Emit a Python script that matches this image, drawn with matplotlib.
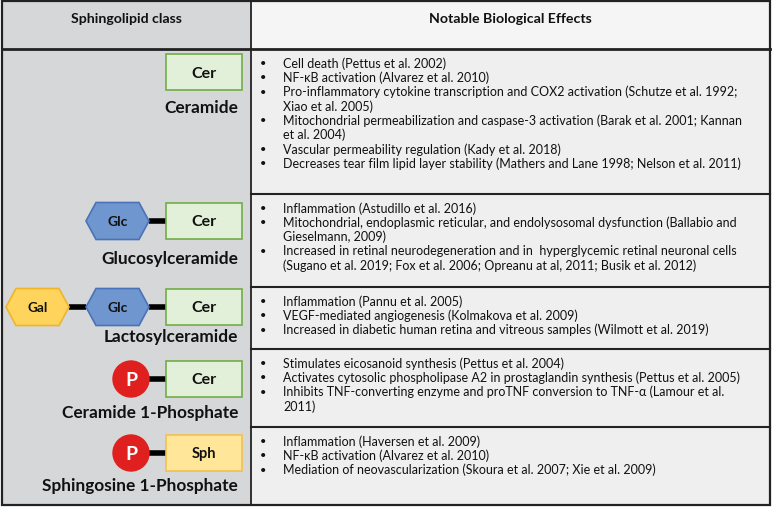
"""
Sphingolipid classes and their notable biological effects (table figure)
"""

import matplotlib.pyplot as plt
from matplotlib.patches import Rectangle, Polygon, Circle

plt.rcParams['font.family'] = ['Lato', 'DejaVu Sans']

# Table content
header_left = 'Sphingolipid class'
header_right = 'Notable Biological Effects'

class_names = ['Ceramide', 'Glucosylceramide', 'Lactosylceramide',
               'Ceramide 1-Phosphate', 'Sphingosine 1-Phosphate']

# structure drawn right-to-left: last unit sits at the right edge
class_units = [
    [('box', 'Cer')],
    [('hex', 'Glc'), ('box', 'Cer')],
    [('hex', 'Gal'), ('hex', 'Glc'), ('box', 'Cer')],
    [('circ', 'P'), ('box', 'Cer')],
    [('circ', 'P'), ('box', 'Sph')],
]

effects = [
    ['Cell death (Pettus et al. 2002)',
     'NF-\u03baB activation (Alvarez et al. 2010)',
     'Pro-inflammatory cytokine transcription and COX2 activation (Schutze et al. 1992;\nXiao et al. 2005)',
     'Mitochondrial permeabilization and caspase-3 activation (Barak et al. 2001; Kannan\net al. 2004)',
     'Vascular permeability regulation (Kady et al. 2018)',
     'Decreases tear film lipid layer stability (Mathers and Lane 1998; Nelson et al. 2011)'],
    ['Inflammation (Astudillo et al. 2016)',
     'Mitochondrial, endoplasmic reticular, and endolysosomal dysfunction (Ballabio and\nGieselmann, 2009)',
     'Increased in retinal neurodegeneration and in  hyperglycemic retinal neuronal cells\n(Sugano et al. 2019; Fox et al. 2006; Opreanu at al, 2011; Busik et al. 2012)'],
    ['Inflammation (Pannu et al. 2005)',
     'VEGF-mediated angiogenesis (Kolmakova et al. 2009)',
     'Increased in diabetic human retina and vitreous samples (Wilmott et al. 2019)'],
    ['Stimulates eicosanoid synthesis (Pettus et al. 2004)',
     'Activates cytosolic phospholipase A2 in prostaglandin synthesis (Pettus et al. 2005)',
     'Inhibits TNF-converting enzyme and proTNF conversion to TNF-\u03b1 (Lamour et al.\n2011)'],
    ['Inflammation (Haversen et al. 2009)',
     'NF-\u03baB activation (Alvarez et al. 2010)',
     'Mediation of neovascularization (Skoura et al. 2007; Xie et al. 2009)'],
]

COLORS = {
    'left_bg': '#d5d7d9',
    'right_bg': '#efefef',
    'head_bg': '#f5f5f5',
    'line': '#222222',
    'Cer': ('#e2efd9', '#70ad47'),
    'Sph': ('#ffe699', '#f2c14e'),
    'Glc': ('#7096cf', '#4a72b8'),
    'Gal': ('#ffd45c', '#f0b429'),
    'P': ('#e0201e', '#e0201e'),
}

# layout in pixels
W, H = 772, 510
X0, XM, X1 = 2, 251, 770
Y0, YH, Y1 = 2, 50, 506
row_edges = [50, 195, 288, 350, 428, 506]
struct_y = [73, 222, 308, 380, 454]
label_y = [108, 259, 337, 413, 486]
LINE_H = 14.3

fig = plt.figure(figsize=(W / 100, H / 100), dpi=100)
ax = fig.add_axes([0, 0, 1, 1])
ax.set_xlim(0, W)
ax.set_ylim(H, 0)
ax.axis('off')

# backgrounds
ax.add_patch(Rectangle((X0, Y0), XM - X0, Y1 - Y0, facecolor=COLORS['left_bg'], edgecolor='none'))
ax.add_patch(Rectangle((XM, Y0), X1 - XM, YH - Y0, facecolor=COLORS['head_bg'], edgecolor='none'))
ax.add_patch(Rectangle((XM, YH), X1 - XM, Y1 - YH, facecolor=COLORS['right_bg'], edgecolor='none'))

# grid lines
ax.add_patch(Rectangle((X0, Y0), X1 - X0, Y1 - Y0, facecolor='none', edgecolor=COLORS['line'], lw=1.6))
ax.plot([X0, X1], [YH, YH], color=COLORS['line'], lw=2.0)
ax.plot([XM, XM], [Y0, Y1], color=COLORS['line'], lw=1.3)
for y in row_edges[1:-1]:
    ax.plot([XM, X1], [y, y], color=COLORS['line'], lw=1.5)

# headers
ax.text((X0 + XM) / 2, 19, header_left, ha='center', va='center',
        fontsize=10.2, fontweight='bold', color='#111111')
ax.text((XM + X1) / 2, 19, header_right, ha='center', va='center',
        fontsize=10.2, fontweight='bold', color='#111111')


def hexagon(x0, x1, yc, h, fc, ec):
    d = 10
    pts = [(x0, yc), (x0 + d, yc - h / 2), (x1 - d, yc - h / 2),
           (x1, yc), (x1 - d, yc + h / 2), (x0 + d, yc + h / 2)]
    ax.add_patch(Polygon(pts, closed=True, facecolor=fc, edgecolor=ec, lw=1.2, zorder=3))


unit_width = {'box': 76, 'hex': 63, 'circ': 36}
unit_font = {'Cer': 11.5, 'Sph': 10.5, 'Glc': 10, 'Gal': 9.8, 'P': 14}
GAP = 17
BOX_RIGHT = 242

for i, units in enumerate(class_units):
    yc = struct_y[i]
    right = BOX_RIGHT
    prev_left = None
    for kind, name in reversed(units):
        w = unit_width[kind]
        left = right - w
        fc, ec = COLORS[name]
        if kind == 'box':
            ax.add_patch(Rectangle((left, yc - 18), w, 36, facecolor=fc, edgecolor=ec, lw=1.2, zorder=3))
            tc = '#111111'
        elif kind == 'hex':
            hexagon(left, right, yc, 37, fc, ec)
            tc = '#111111'
        else:
            ax.add_patch(Circle((left + w / 2, yc), 18, facecolor=fc, edgecolor=ec, zorder=3))
            tc = 'white'
        ax.text((left + right) / 2, yc + 0.5, name, ha='center', va='center',
                fontsize=unit_font[name], fontweight='bold', color=tc, zorder=4)
        if prev_left is not None:
            ax.plot([right, prev_left], [yc, yc], color='black', lw=4, solid_capstyle='butt', zorder=2)
        prev_left = left
        right = left - GAP

    ax.text(238, label_y[i], class_names[i], ha='right', va='center',
            fontsize=12.4, fontweight='bold', color='#111111')

# effect bullets
for i, items in enumerate(effects):
    y = row_edges[i] + 13.5
    for item in items:
        ax.text(263, y, '\u2022', ha='center', va='center', fontsize=8, color='#111111')
        for line in item.split('\n'):
            ax.text(283, y, line, ha='left', va='center', fontsize=9.0, color='#111111')
            y += LINE_H

fig.savefig('out.png', dpi=100, facecolor='white')
plt.close(fig)
